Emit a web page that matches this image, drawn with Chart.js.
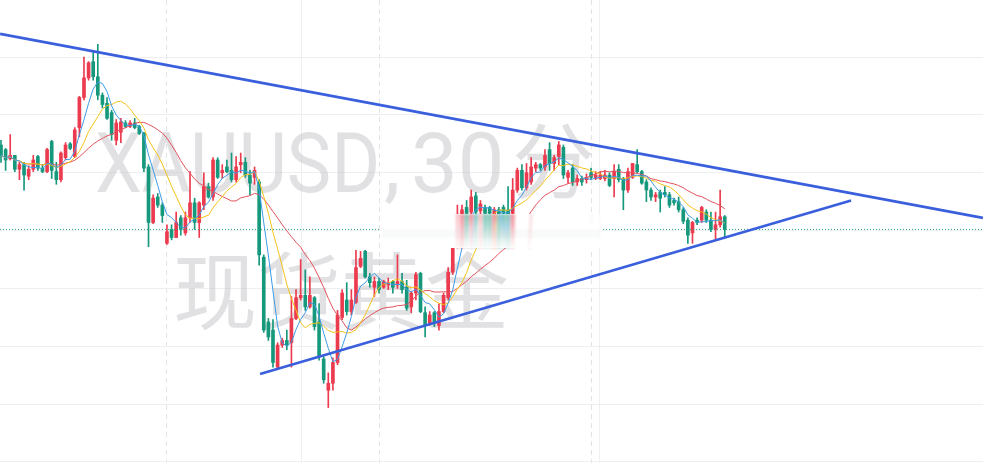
<!DOCTYPE html>
<html>
<head>
<meta charset="utf-8">
<script src="https://cdn.jsdelivr.net/npm/chart.js@4.4.1/dist/chart.umd.min.js"></script>
<style>
  html, body { margin: 0; padding: 0; background: #fff; }
  #wrap { width: 983px; height: 463px; }
</style>
</head>
<body>
<div id="wrap"><canvas id="chart"></canvas></div>
<script>
// XAUUSD 30 min candles
var opens = [
  2337.4, 2337.0, 2336.2, 2336.5, 2335.3, 2335.7, 2334.7, 2335.3, 2336.4, 2335.4,
  2335.1, 2337.7, 2335.1, 2334.4, 2336.3, 2337.5, 2336.4, 2338.9, 2341.5, 2343.2,
  2344.6, 2343.3, 2341.7, 2341.0, 2340.2, 2337.8, 2338.5, 2339.3, 2339.0, 2339.3,
  2339.0, 2338.4, 2335.5, 2330.7, 2332.9, 2332.2, 2328.9, 2330.1, 2329.4, 2331.1,
  2329.8, 2331.1, 2332.4, 2330.7, 2332.2, 2333.8, 2332.9, 2336.1, 2335.0, 2335.5,
  2335.2, 2334.4, 2335.7, 2335.9, 2334.8, 2334.6, 2334.2, 2327.7, 2322.1, 2321.4,
  2318.2, 2320.1, 2320.5, 2320.3, 2322.4, 2324.2, 2324.4, 2323.4, 2324.2, 2322.1,
  2318.9, 2316.2, 2316.8, 2318.6, 2322.5, 2324.0, 2323.0, 2323.8, 2326.9, 2328.2,
  2326.0, 2325.1, 2325.6, 2325.1, 2325.3, 2325.6, 2325.3, 2325.6, 2325.1, 2323.4,
  2324.6, 2326.3, 2322.9, 2322.0, 2322.9, 2321.8, 2323.0, 2324.2, 2326.4, 2328.8,
  2331.3, 2332.0, 2331.6, 2333.0, 2331.7, 2332.0, 2332.0, 2331.4, 2331.8, 2332.0,
  2331.8, 2331.5, 2333.5, 2335.2, 2333.7, 2334.2, 2335.4, 2335.7, 2335.5, 2337.0,
  2335.8, 2336.4, 2337.2, 2334.6, 2335.4, 2334.2, 2334.5, 2334.4, 2335.0, 2334.5,
  2334.5, 2334.5, 2334.8, 2334.5, 2335.3, 2334.5, 2333.5, 2334.6, 2335.7, 2335.1,
  2334.2, 2333.5, 2332.9, 2333.3, 2333.3, 2333.1, 2332.6, 2332.5, 2331.8, 2330.9,
  2329.8, 2330.9, 2330.9, 2331.6, 2330.9, 2330.1, 2330.5, 2331.2
];
var highs = [
  2337.8, 2337.1, 2338.3, 2336.5, 2335.9, 2335.9, 2335.6, 2336.5, 2336.5, 2335.7,
  2337.1, 2337.8, 2335.9, 2336.8, 2337.6, 2337.6, 2338.9, 2341.6, 2345.0, 2344.6,
  2345.4, 2346.1, 2341.9, 2341.5, 2340.4, 2339.6, 2339.7, 2339.5, 2339.5, 2339.7,
  2339.1, 2338.5, 2335.7, 2333.1, 2333.2, 2332.4, 2330.5, 2330.5, 2331.6, 2331.3,
  2331.6, 2335.1, 2332.8, 2332.5, 2335.0, 2334.1, 2336.3, 2336.3, 2335.7, 2336.1,
  2336.7, 2336.4, 2336.7, 2336.3, 2335.2, 2335.5, 2334.4, 2327.9, 2322.4, 2322.3,
  2320.3, 2320.7, 2321.4, 2324.3, 2324.9, 2327.5, 2326.6, 2326.0, 2324.3, 2323.7,
  2319.1, 2317.7, 2319.0, 2323.1, 2324.9, 2325.5, 2324.9, 2328.3, 2328.2, 2328.3,
  2326.3, 2326.0, 2325.9, 2325.7, 2325.9, 2325.7, 2327.9, 2326.3, 2325.7, 2324.7,
  2326.4, 2326.4, 2323.4, 2323.0, 2323.0, 2323.7, 2324.6, 2326.8, 2329.2, 2332.2,
  2332.2, 2332.6, 2333.5, 2333.3, 2332.6, 2332.2, 2332.1, 2332.0, 2332.0, 2332.2,
  2333.8, 2334.5, 2335.4, 2335.7, 2335.8, 2336.3, 2335.9, 2335.8, 2337.0, 2337.6,
  2336.5, 2337.7, 2337.4, 2335.2, 2335.7, 2334.8, 2334.7, 2334.9, 2335.4, 2335.1,
  2335.1, 2335.2, 2335.0, 2335.7, 2335.7, 2334.6, 2335.4, 2335.8, 2337.0, 2335.2,
  2334.4, 2333.7, 2333.3, 2333.5, 2333.8, 2333.3, 2332.8, 2332.9, 2332.0, 2331.1,
  2330.8, 2331.1, 2332.1, 2331.8, 2331.6, 2331.6, 2333.5, 2331.3
];
var lows = [
  2335.9, 2335.2, 2336.1, 2335.1, 2334.4, 2333.5, 2334.4, 2335.1, 2335.2, 2335.0,
  2335.0, 2334.5, 2334.0, 2334.2, 2336.1, 2337.0, 2336.3, 2338.1, 2341.3, 2343.0,
  2343.0, 2341.3, 2340.6, 2339.6, 2337.8, 2337.4, 2337.6, 2338.9, 2338.9, 2338.8,
  2338.3, 2335.1, 2328.6, 2330.6, 2332.0, 2330.7, 2328.8, 2329.2, 2329.4, 2329.6,
  2329.6, 2330.7, 2330.1, 2329.4, 2331.8, 2332.8, 2332.6, 2334.5, 2334.5, 2335.0,
  2334.2, 2334.2, 2335.0, 2334.6, 2333.1, 2334.0, 2327.0, 2321.2, 2320.5, 2318.2,
  2318.1, 2319.9, 2319.7, 2318.2, 2322.3, 2324.0, 2323.1, 2323.3, 2321.4, 2318.8,
  2316.8, 2314.7, 2316.2, 2318.4, 2322.3, 2322.7, 2322.7, 2323.7, 2326.8, 2325.9,
  2325.1, 2324.3, 2324.6, 2325.0, 2324.9, 2324.6, 2325.0, 2324.6, 2323.1, 2322.9,
  2324.0, 2322.9, 2320.8, 2321.8, 2321.7, 2321.4, 2322.9, 2324.0, 2326.2, 2328.5,
  2331.1, 2331.3, 2331.3, 2331.3, 2331.3, 2331.3, 2331.3, 2331.3, 2331.3, 2331.3,
  2331.3, 2331.3, 2333.3, 2333.5, 2333.5, 2334.0, 2335.1, 2335.2, 2335.2, 2335.2,
  2335.2, 2335.7, 2334.5, 2334.1, 2333.9, 2333.9, 2333.9, 2334.1, 2334.4, 2334.4,
  2334.4, 2334.3, 2333.8, 2332.9, 2334.2, 2331.8, 2333.3, 2334.5, 2335.0, 2334.0,
  2332.5, 2332.6, 2332.5, 2331.6, 2332.9, 2332.0, 2332.2, 2331.6, 2330.6, 2328.9,
  2328.9, 2330.5, 2330.7, 2330.7, 2329.9, 2329.2, 2330.3, 2329.4
];
var closes = [
  2336.5, 2336.1, 2336.5, 2335.3, 2335.7, 2334.8, 2335.3, 2336.1, 2335.4, 2335.1,
  2337.0, 2335.2, 2334.4, 2336.7, 2337.4, 2337.1, 2338.7, 2341.5, 2343.2, 2344.5,
  2343.3, 2341.7, 2340.9, 2339.7, 2338.3, 2339.3, 2339.4, 2339.0, 2339.3, 2338.9,
  2338.4, 2335.4, 2330.7, 2332.8, 2332.2, 2331.3, 2329.9, 2329.4, 2330.7, 2330.1,
  2331.1, 2332.4, 2330.7, 2332.4, 2333.8, 2332.9, 2336.1, 2334.6, 2335.2, 2335.1,
  2334.4, 2335.5, 2335.9, 2334.8, 2334.1, 2335.2, 2327.9, 2321.4, 2320.8, 2318.6,
  2320.1, 2320.5, 2320.1, 2322.4, 2324.2, 2324.4, 2323.4, 2324.4, 2321.7, 2319.1,
  2317.1, 2316.8, 2318.6, 2322.7, 2324.6, 2323.0, 2324.0, 2326.8, 2327.6, 2326.0,
  2325.5, 2325.6, 2324.9, 2325.6, 2325.5, 2325.1, 2325.6, 2324.9, 2323.3, 2324.6,
  2326.2, 2323.0, 2321.8, 2322.7, 2322.1, 2323.0, 2324.4, 2326.4, 2328.6, 2331.3,
  2331.8, 2331.5, 2332.9, 2331.6, 2332.3, 2331.5, 2331.5, 2331.8, 2331.4, 2331.5,
  2331.4, 2333.5, 2335.2, 2333.7, 2335.0, 2335.5, 2335.7, 2335.4, 2336.5, 2335.8,
  2336.3, 2337.4, 2334.8, 2335.0, 2334.2, 2334.5, 2334.2, 2334.6, 2334.6, 2334.8,
  2334.8, 2334.8, 2333.9, 2335.1, 2334.4, 2333.5, 2335.1, 2335.8, 2335.1, 2334.1,
  2333.5, 2332.9, 2333.1, 2332.8, 2333.1, 2332.2, 2332.4, 2331.8, 2330.8, 2329.6,
  2330.7, 2330.7, 2332.0, 2330.9, 2330.1, 2330.5, 2331.2, 2330.1
];

// hand-drawn trend lines, [bar index, price]
var upperTrend = [[-0.2, 2347.0], [213.0, 2331.1]];
var lowerTrend = [[56.2, 2317.6], [184.4, 2332.6]];

var sessionBreaks = [36, 82, 128];     // dashed day separators
var timeGrid = [65.1, 129.9];          // plain vertical grid
var priceLevels = [2310, 2315, 2320, 2325, 2330, 2335, 2340, 2345];

// smudged-out patch in the screenshot: bar range and price range
var smudgeBars = [82.9, 129.9];
var smudgePrices = [2331.4, 2328.5];

var xMin = -0.217, xMax = 213.02;
var yMin = 2309.91, yMax = 2349.93;

var upColor = '#ec3a4e';
var downColor = '#16987d';

function movingAverage(values, n) {
    var out = [];
    for (var i = 0; i < values.length; i++) {
        var from = Math.max(0, i - n + 1);
        var sum = 0;
        for (var k = from; k <= i; k++) sum += values[k];
        out.push({x: i, y: sum / (i - from + 1)});
    }
    return out;
}

var bodies = [], wicks = [], bodyColors = [];
for (var i = 0; i < closes.length; i++) {
    bodies.push({x: i, y: [opens[i], closes[i]]});
    wicks.push({x: i, y: [lows[i], highs[i]]});
    bodyColors.push(closes[i] >= opens[i] ? upColor : downColor);
}
var lastPrice = closes[closes.length - 1];

function toPoints(pairs) {
    return pairs.map(function(p) { return {x: p[0], y: p[1]}; });
}

var watermark = {
    id: 'watermark',
    beforeDatasetsDraw: function(chart) {
        var ctx = chart.ctx, a = chart.chartArea;
        ctx.save();
        ctx.fillStyle = 'rgba(196,196,200,0.5)';
        ctx.font = '83px Roboto';
        ctx.save();
        ctx.translate(a.left + 95, a.top + 192);
        ctx.scale(0.9, 1);
        ctx.fillText('XAUUSD', 0, 0);
        ctx.restore();
        ctx.fillText(',', a.left + 384, a.top + 192);
        ctx.fillText('30', a.left + 411, a.top + 192);
        ctx.font = '83px "Noto Sans CJK SC"';
        ctx.fillText('分', a.left + 512, a.top + 192);
        ctx.font = '84px "Noto Sans CJK SC"';
        ctx.fillText('现货黄金', a.left + 173, a.top + 323);
        ctx.restore();
    }
};

// the screenshot has a smeared patch; copy a thin row and stretch it down
var smudge = {
    id: 'smudge',
    afterDatasetsDraw: function(chart) {
        var ctx = chart.ctx, sx = chart.scales.x, sy = chart.scales.y;
        var left = Math.round(sx.getPixelForValue(smudgeBars[0]));
        var right = Math.round(sx.getPixelForValue(smudgeBars[1]));
        var top = Math.round(sy.getPixelForValue(smudgePrices[0]));
        var bottom = Math.round(sy.getPixelForValue(smudgePrices[1]));
        var w = right - left, h = bottom - top;
        var strip = document.createElement('canvas');
        strip.width = w; strip.height = 4;
        strip.getContext('2d').drawImage(chart.canvas, left, top - 3, w, 4, 0, 0, w, 4);
        ctx.save();
        ctx.fillStyle = '#ffffff';
        ctx.fillRect(left - 2, top, w + 4, h);
        ctx.filter = 'blur(1.5px)';
        ctx.globalAlpha = 0.65;
        ctx.drawImage(strip, 0, 0, w, 4, left, top, w, h);
        ctx.filter = 'none';
        ctx.globalAlpha = 1;
        var g = ctx.createLinearGradient(0, top, 0, bottom);
        g.addColorStop(0, 'rgba(255,255,255,0)');
        g.addColorStop(1, 'rgba(255,255,255,0.85)');
        ctx.fillStyle = g;
        ctx.fillRect(left - 2, top, w + 4, h);
        ctx.fillStyle = 'rgba(200,202,205,0.1)';
        ctx.fillRect(left, top + h * 0.45, w, h * 0.25);
        ctx.restore();
    }
};

var ctx = document.getElementById('chart').getContext('2d');
var myChart = new Chart(ctx, {
    type: 'bar',
    data: {
        datasets: [
            { type: 'line', data: toPoints(upperTrend), borderColor: '#3a5fdd', borderWidth: 2.6,
              pointRadius: 0, order: 0 },
            { type: 'line', data: toPoints(lowerTrend), borderColor: '#3a5fdd', borderWidth: 2.6,
              pointRadius: 0, order: 0 },
            { type: 'line', data: [{x: xMin, y: lastPrice}, {x: xMax, y: lastPrice}],
              borderColor: '#1fa386', borderWidth: 1, borderDash: [1, 2], pointRadius: 0, order: 1 },
            { type: 'line', data: movingAverage(closes, 5), borderColor: '#3d9be6', borderWidth: 1,
              pointRadius: 0, order: 1 },
            { type: 'line', data: movingAverage(closes, 10), borderColor: '#f5c21a', borderWidth: 1,
              pointRadius: 0, order: 1 },
            { type: 'line', data: movingAverage(closes, 20), borderColor: '#e4515c', borderWidth: 1,
              pointRadius: 0, order: 1 },
            { data: bodies, backgroundColor: bodyColors, barThickness: 3, minBarLength: 1,
              grouped: false, borderWidth: 0, order: 2 },
            { data: wicks, backgroundColor: bodyColors, barThickness: 1, grouped: false,
              borderWidth: 0, order: 3 }
        ]
    },
    options: {
        responsive: true,
        maintainAspectRatio: false,
        animation: false,
        layout: { padding: 0 },
        plugins: { legend: { display: false }, tooltip: { enabled: false } },
        scales: {
            x: {
                type: 'linear', min: xMin, max: xMax, offset: false,
                ticks: { display: false },
                grid: { color: '#e2e3e6', drawTicks: false, offset: false },
                border: { display: false, dash: [5, 4] },
                afterBuildTicks: function(s) { s.ticks = sessionBreaks.map(function(v) { return {value: v}; }); }
            },
            x2: {
                type: 'linear', min: xMin, max: xMax, offset: false, position: 'bottom',
                ticks: { display: false },
                grid: { color: '#eeeff1', drawTicks: false, offset: false },
                border: { display: false },
                afterBuildTicks: function(s) { s.ticks = timeGrid.map(function(v) { return {value: v}; }); }
            },
            y: {
                min: yMin, max: yMax,
                ticks: { display: false },
                grid: { color: '#eeeff1', drawTicks: false },
                border: { display: false },
                afterBuildTicks: function(s) { s.ticks = priceLevels.map(function(v) { return {value: v}; }); }
            }
        }
    },
    plugins: [watermark, smudge]
});
</script>
</body>
</html>
